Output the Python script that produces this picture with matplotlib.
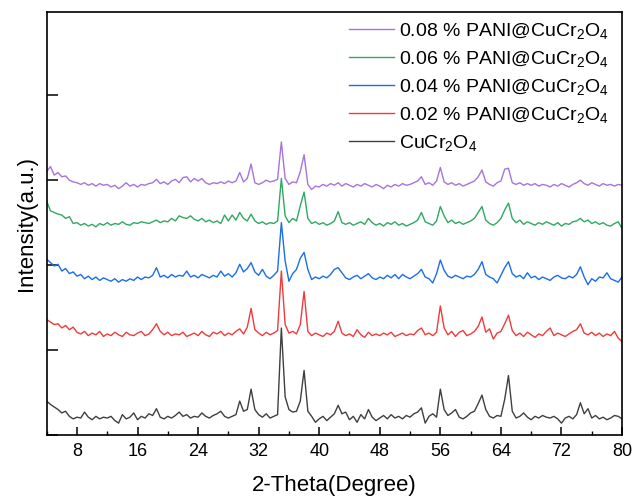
"""
XRD patterns of CuCr2O4 and PANI@CuCr2O4 composites (stacked, offset).
"""

import numpy as np
import matplotlib

matplotlib.use("Agg")
import matplotlib.pyplot as plt
from matplotlib.ticker import MultipleLocator

plt.rcParams.update(
    {
        "font.family": ["Liberation Sans", "DejaVu Sans"],
        "mathtext.default": "regular",
        "axes.linewidth": 1.2,
        "lines.linewidth": 1.0,
    }
)

# 2-theta grid (deg), step 0.5
two_theta = np.arange(4.0, 80.01, 0.5)

# intensities (a.u., already offset)
cucr2o4 = [
    0.40, 0.36, 0.33, 0.30, 0.26, 0.28, 0.22, 0.19, 0.21, 0.20,
    0.27, 0.21, 0.18, 0.22, 0.19, 0.21, 0.20, 0.22, 0.17, 0.14,
    0.24, 0.19, 0.21, 0.26, 0.18, 0.22, 0.20, 0.25, 0.23, 0.31,
    0.21, 0.19, 0.22, 0.20, 0.23, 0.27, 0.22, 0.24, 0.20,
    0.22, 0.21, 0.26, 0.22, 0.20, 0.23, 0.25, 0.28, 0.22, 0.20,
    0.22, 0.24, 0.40, 0.28, 0.30, 0.54, 0.30, 0.24, 0.21, 0.25,
    0.20, 0.22, 0.24, 1.26, 0.45, 0.30, 0.27, 0.28, 0.40, 0.76,
    0.28, 0.22, 0.15, 0.19, 0.22, 0.17, 0.21, 0.25,
    0.35, 0.25, 0.27, 0.18, 0.22, 0.15, 0.24, 0.19, 0.30, 0.21,
    0.17, 0.20, 0.23, 0.19, 0.24, 0.20, 0.22, 0.19, 0.23, 0.21,
    0.25, 0.27, 0.32, 0.14, 0.22, 0.25, 0.21, 0.54, 0.30, 0.23,
    0.26, 0.30, 0.21, 0.19, 0.22, 0.26, 0.28, 0.37,
    0.47, 0.30, 0.22, 0.20, 0.23, 0.22, 0.42, 0.70, 0.28, 0.20,
    0.22, 0.26, 0.21, 0.18, 0.22, 0.20, 0.23, 0.21, 0.20, 0.22,
    0.19, 0.14, 0.20, 0.22, 0.19, 0.24, 0.38, 0.25, 0.31, 0.20,
    0.23, 0.19, 0.21, 0.18, 0.20, 0.23, 0.22, 0.19,
]
pani_002 = [
    1.36, 1.33, 1.30, 1.31, 1.26, 1.29, 1.24, 1.27, 1.21, 1.19,
    1.22, 1.17, 1.20, 1.18, 1.22, 1.16, 1.19, 1.17, 1.21, 1.18,
    1.16, 1.21, 1.18, 1.17, 1.20, 1.22, 1.17, 1.19, 1.24, 1.31,
    1.22, 1.18, 1.21, 1.17, 1.19, 1.18, 1.21, 1.16, 1.18,
    1.20, 1.17, 1.22, 1.18, 1.16, 1.21, 1.19, 1.22, 1.17, 1.20,
    1.18, 1.22, 1.25, 1.19, 1.27, 1.49, 1.24, 1.20, 1.17, 1.21,
    1.18, 1.20, 1.23, 1.93, 1.30, 1.20, 1.22, 1.19, 1.30, 1.69,
    1.22, 1.17, 1.20, 1.18, 1.16, 1.20, 1.18, 1.22,
    1.34, 1.20, 1.17, 1.19, 1.16, 1.24, 1.18, 1.15, 1.21, 1.17,
    1.19, 1.17, 1.20, 1.18, 1.21, 1.16, 1.18, 1.20, 1.17, 1.19,
    1.18, 1.23, 1.26, 1.18, 1.20, 1.17, 1.21, 1.52, 1.26, 1.18,
    1.22, 1.16, 1.21, 1.23, 1.17, 1.19, 1.22, 1.28,
    1.39, 1.21, 1.25, 1.13, 1.20, 1.22, 1.31, 1.41, 1.23, 1.17,
    1.20, 1.16, 1.21, 1.18, 1.15, 1.19, 1.17, 1.22, 1.26, 1.17,
    1.20, 1.18, 1.16, 1.19, 1.22, 1.24, 1.31, 1.20, 1.18, 1.21,
    1.17, 1.20, 1.16, 1.19, 1.17, 1.22, 1.14, 1.10,
]
pani_004 = [
    2.07, 2.03, 1.99, 2.01, 1.93, 1.96, 1.90, 1.92, 1.87, 1.89,
    1.84, 1.87, 1.83, 1.86, 1.82, 1.85, 1.83, 1.81, 1.84, 1.80,
    1.83, 1.81, 1.84, 1.82, 1.86, 1.83, 1.86, 1.85, 1.88, 1.97,
    1.86, 1.88, 1.85, 1.89, 1.86, 1.88, 1.87, 1.93, 1.86,
    1.88, 1.85, 1.89, 1.87, 1.85, 1.88, 1.86, 1.93, 1.87, 1.90,
    1.86, 1.91, 2.01, 1.92, 1.96, 2.03, 1.92, 1.88, 1.95, 1.87,
    1.84, 1.88, 1.93, 2.50, 2.05, 1.81, 1.90, 1.95, 2.08, 2.15,
    1.95, 1.83, 1.86, 1.84, 1.87, 1.85, 1.89, 1.95,
    1.97, 1.91, 1.85, 1.83, 1.86, 1.88, 1.84, 1.87, 1.90, 1.85,
    1.83, 1.86, 1.84, 1.88, 1.85, 1.89, 1.84, 1.89, 1.86, 1.84,
    1.87, 1.90, 1.95, 1.86, 1.84, 1.79, 1.90, 2.06, 1.94, 1.87,
    1.85, 1.88, 1.86, 1.84, 1.87, 1.86, 1.89, 1.95,
    2.04, 1.89, 1.86, 1.84, 1.79, 1.88, 1.97, 2.04, 1.90, 1.86,
    1.88, 1.84, 1.91, 1.85, 1.87, 1.83, 1.86, 1.84, 1.82, 1.86,
    1.88, 1.85, 1.84, 1.87, 1.85, 1.89, 1.98, 1.86, 1.77, 1.84,
    1.81, 1.86, 1.85, 1.91, 1.84, 1.82, 1.80, 1.86,
]
pani_006 = [
    2.75, 2.64, 2.62, 2.60, 2.59, 2.55, 2.57, 2.49, 2.50, 2.47,
    2.49, 2.46, 2.48, 2.45, 2.49, 2.47, 2.50, 2.47, 2.49, 2.48,
    2.51, 2.48, 2.47, 2.50, 2.49, 2.51, 2.50, 2.49, 2.51, 2.53,
    2.50, 2.52, 2.51, 2.55, 2.52, 2.58, 2.56, 2.55, 2.58,
    2.54, 2.52, 2.55, 2.51, 2.53, 2.50, 2.52, 2.49, 2.59, 2.52,
    2.59, 2.53, 2.62, 2.55, 2.52, 2.60, 2.52, 2.49, 2.51, 2.48,
    2.50, 2.49, 2.52, 3.02, 2.58, 2.50, 2.55, 2.52, 2.70, 2.86,
    2.55, 2.49, 2.51, 2.48, 2.50, 2.47, 2.49, 2.52,
    2.63, 2.50, 2.48, 2.50, 2.47, 2.49, 2.51, 2.48, 2.55, 2.50,
    2.47, 2.49, 2.46, 2.50, 2.48, 2.51, 2.47, 2.49, 2.46, 2.48,
    2.50, 2.53, 2.62, 2.51, 2.49, 2.47, 2.52, 2.69, 2.58, 2.50,
    2.53, 2.49, 2.51, 2.48, 2.50, 2.52, 2.55, 2.62,
    2.69, 2.53, 2.49, 2.47, 2.50, 2.55, 2.65, 2.73, 2.55, 2.50,
    2.53, 2.48, 2.51, 2.49, 2.47, 2.50, 2.48, 2.51, 2.49, 2.47,
    2.50, 2.46, 2.49, 2.48, 2.51, 2.52, 2.55, 2.51, 2.53, 2.49,
    2.51, 2.48, 2.50, 2.47, 2.46, 2.49, 2.51, 2.43,
]
pani_008 = [
    3.10, 3.16, 3.06, 3.09, 3.04, 3.05, 3.00, 2.98, 2.97, 2.95,
    2.97, 2.94, 2.96, 2.93, 2.96, 2.94, 2.95, 2.92, 2.94, 2.90,
    2.93, 2.97, 2.93, 2.95, 2.92, 2.95, 2.94, 2.96, 2.97, 3.01,
    2.96, 2.98, 2.95, 2.99, 3.01, 2.97, 3.03, 3.04, 2.98,
    3.02, 2.99, 3.02, 2.97, 2.95, 2.97, 2.96, 2.98, 2.96, 2.99,
    2.97, 2.99, 3.09, 2.98, 3.02, 3.19, 2.97, 2.95, 2.97, 3.00,
    2.98, 2.99, 3.01, 3.45, 3.02, 2.95, 2.98, 2.97, 3.10, 3.30,
    2.95, 2.89, 2.93, 2.92, 2.95, 2.93, 2.96, 2.94,
    2.97, 2.93, 2.96, 2.94, 2.92, 2.95, 2.93, 2.96, 2.94, 2.92,
    2.95, 2.93, 2.90, 2.94, 2.92, 2.95, 2.93, 2.96, 2.94, 2.95,
    2.97, 2.99, 3.04, 2.95, 2.97, 2.94, 2.99, 3.15, 2.98, 2.95,
    2.97, 2.94, 2.96, 2.93, 2.95, 2.97, 2.99, 3.04,
    3.12, 2.98, 2.95, 2.93, 2.97, 2.99, 3.13, 3.14, 2.97, 2.95,
    2.97, 2.94, 2.96, 2.94, 2.96, 2.93, 2.95, 2.94, 2.92, 2.95,
    2.93, 2.96, 2.94, 2.92, 2.95, 2.97, 3.00, 2.96, 2.94, 2.97,
    2.95, 2.93, 2.96, 2.94, 2.95, 2.93, 2.95, 2.94,
]

labels = [
    "CuCr$_2$O$_4$",
    "0.02 % PANI@CuCr$_2$O$_4$",
    "0.04 % PANI@CuCr$_2$O$_4$",
    "0.06 % PANI@CuCr$_2$O$_4$",
    "0.08 % PANI@CuCr$_2$O$_4$",
]
series = [cucr2o4, pani_002, pani_004, pani_006, pani_008]
colors = ["#3f3f3f", "#f23a3a", "#1a6ee6", "#2fa862", "#a873dc"]


def plot_xrd():
    """Stacked XRD patterns"""
    fig = plt.figure(figsize=(6.42, 4.97), dpi=100)
    ax = fig.add_axes([0.0727, 0.1247, 0.8962, 0.8512])
    handles = []
    for vals, lab, col in zip(series, labels, colors):
        assert len(vals) == len(two_theta), lab
        (ln,) = ax.plot(two_theta, vals, color=col, lw=1.0, label=lab)
        handles.append(ln)
    ax.set_xlim(4, 80)
    ax.set_ylim(0, 4.98)
    ax.xaxis.set_major_locator(MultipleLocator(8))
    ax.xaxis.set_minor_locator(MultipleLocator(4))
    ax.set_xticks(np.arange(8, 81, 8))
    ax.yaxis.set_major_locator(MultipleLocator(1))
    ax.tick_params(axis="x", which="major", direction="in", length=6, width=1.1,
                   labelsize=13, pad=6)
    ax.tick_params(axis="x", which="minor", direction="in", length=3, width=1.0)
    ax.tick_params(axis="y", which="major", direction="in", length=8, width=1.1,
                   left=True, labelleft=False)
    ax.set_xlabel("2-Theta(Degree)", fontsize=16, labelpad=10.5)
    ax.set_ylabel("Intensity(a.u.)", fontsize=16, labelpad=7)
    ax.legend(
        handles[::-1],
        labels[::-1],
        loc="upper right",
        bbox_to_anchor=(1.0, 1.012),
        frameon=False,
        fontsize=14,
        handlelength=2.3,
        handletextpad=0.25,
        labelspacing=0.42,
        borderaxespad=0.3,
    )
    fig.savefig("out.png", dpi=100)


if __name__ == "__main__":
    plot_xrd()
